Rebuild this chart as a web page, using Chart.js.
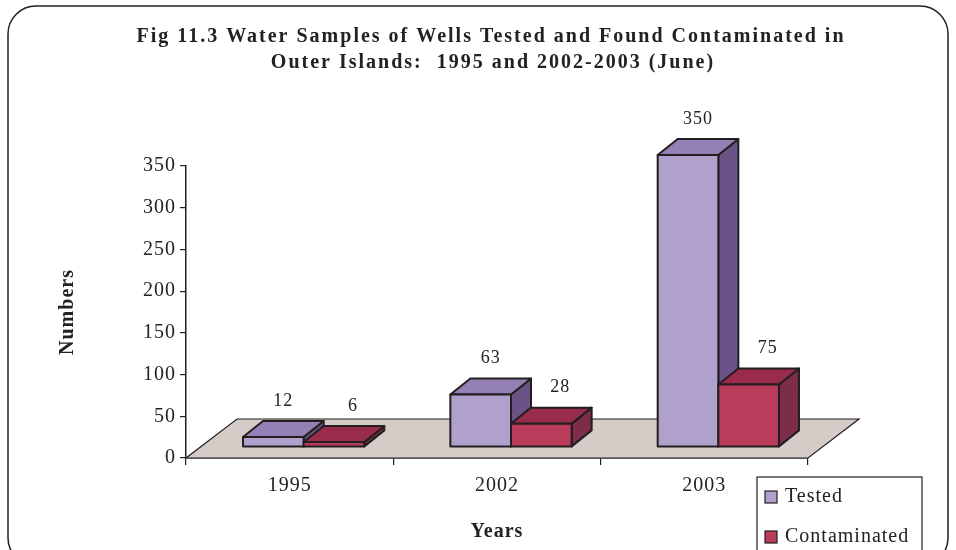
<!DOCTYPE html>
<html>
<head>
<meta charset="utf-8">
<script src="https://cdn.jsdelivr.net/npm/chart.js@4.4.0/dist/chart.umd.min.js"></script>
<style>
  html, body { margin: 0; padding: 0; background: #fff; }
  #wrap { width: 956px; height: 550px; }
</style>
</head>
<body>
<div id="wrap"><canvas id="chart" width="956" height="550"></canvas></div>
<script>
const years = ["1995", "2002", "2003"];
const tested = [12, 63, 350];
const contaminated = [6, 28, 75];
const seriesNames = ["Tested", "Contaminated"];
const yTickStep = 50;
const yMax = 350;
const titleLines = [
  "Fig 11.3 Water Samples of Wells Tested and Found Contaminated in",
  "Outer Islands:  1995 and 2002-2003 (June)"
];

const serif = "'Liberation Serif', 'Times New Roman', serif";
const ink = "#231f20";

// face colours for the fake 3D boxes: front / top / side
const faces = [
  { front: "#b0a0cc", top: "#9580b5", side: "#6b5388" },
  { front: "#b93d5b", top: "#992b4d", side: "#7d2c4a" }
];
// depth offsets (px) of the bar front, bar back and floor back
const FRONT = { dx: 14, dy: -11 };
const BACK = { dx: 34, dy: -27 };
const FLOOR = { dx: 51, dy: -39 };
// where the value label sits, relative to the bar's centre / back top
const labelShift = [24, 33];

function poly(ctx, pts, fill) {
  ctx.beginPath();
  ctx.moveTo(pts[0][0], pts[0][1]);
  for (let k = 1; k < pts.length; k++) ctx.lineTo(pts[k][0], pts[k][1]);
  ctx.closePath();
  ctx.fillStyle = fill;
  ctx.fill();
  ctx.stroke();
}

const threeD = {
  id: "threeD",
  beforeLayout(chart) {
    chart.ctx.letterSpacing = "1px";
  },
  beforeDraw(chart) {
    const ctx = chart.ctx;
    ctx.letterSpacing = "1px";
    // rounded outer frame
    ctx.save();
    ctx.strokeStyle = ink;
    ctx.lineWidth = 1.5;
    ctx.beginPath();
    ctx.roundRect(8, 6, 940, 560, 28);
    ctx.stroke();
    ctx.restore();
  },
  beforeDatasetsDraw(chart) {
    const { ctx, chartArea: a } = chart;
    const y0 = chart.scales.y.getPixelForValue(0);
    ctx.save();
    ctx.strokeStyle = ink;
    ctx.lineWidth = 1.2;
    poly(ctx, [
      [a.left, y0], [a.right, y0],
      [a.right + FLOOR.dx, y0 + FLOOR.dy], [a.left + FLOOR.dx, y0 + FLOOR.dy]
    ], "#d5ccc8");
    ctx.restore();
  },
  afterDatasetsDraw(chart) {
    const ctx = chart.ctx;
    ctx.save();
    ctx.strokeStyle = ink;
    ctx.lineWidth = 2;
    ctx.lineJoin = "round";
    const n = chart.data.labels.length;
    for (let i = 0; i < n; i++) {
      chart.data.datasets.forEach((ds, d) => {
        const el = chart.getDatasetMeta(d).data[i];
        const p = el.getProps(["x", "y", "base", "width"], true);
        const l = p.x - p.width / 2 + FRONT.dx, r = p.x + p.width / 2 + FRONT.dx;
        const t = p.y + FRONT.dy, b = p.base + FRONT.dy;
        const ox = BACK.dx - FRONT.dx, oy = BACK.dy - FRONT.dy;
        const f = faces[d];
        poly(ctx, [[r, t], [r + ox, t + oy], [r + ox, b + oy], [r, b]], f.side);
        poly(ctx, [[l, t], [r, t], [r + ox, t + oy], [l + ox, t + oy]], f.top);
        poly(ctx, [[l, t], [r, t], [r, b], [l, b]], f.front);
      });
    }
    // value labels
    ctx.fillStyle = "#222";
    ctx.font = "18px " + serif;
    ctx.textAlign = "center";
    ctx.textBaseline = "middle";
    chart.data.datasets.forEach((ds, d) => {
      chart.getDatasetMeta(d).data.forEach((el, i) => {
        const p = el.getProps(["x", "y"], true);
        ctx.fillText(String(ds.data[i]), p.x + labelShift[d], p.y + BACK.dy - 20);
      });
    });
    ctx.restore();
  },
  afterDraw(chart) {
    const ctx = chart.ctx;
    ctx.save();
    // title
    ctx.fillStyle = "#222";
    ctx.font = "bold 20px " + serif;
    ctx.letterSpacing = "2px";
    ctx.textAlign = "center";
    ctx.textBaseline = "middle";
    ctx.fillText(titleLines[0], 491, 37);
    ctx.fillText(titleLines[1], 493, 63);
    // legend
    ctx.letterSpacing = "1px";
    ctx.strokeStyle = ink;
    ctx.lineWidth = 1.2;
    ctx.fillStyle = "#fff";
    ctx.fillRect(757, 477, 165, 80);
    ctx.strokeRect(757, 477, 165, 80);
    ctx.font = "20px " + serif;
    ctx.textAlign = "left";
    chart.data.datasets.forEach((ds, d) => {
      const cy = 497 + d * 40;
      ctx.fillStyle = faces[d].front;
      ctx.fillRect(765, cy - 6, 12, 12);
      ctx.strokeRect(765, cy - 6, 12, 12);
      ctx.fillStyle = "#222";
      ctx.fillText(ds.label, 785, cy);
    });
    ctx.restore();
  }
};

new Chart(document.getElementById("chart"), {
  type: "bar",
  data: {
    labels: years,
    datasets: [
      { label: seriesNames[0], data: tested, backgroundColor: "rgba(0,0,0,0)", borderWidth: 0 },
      { label: seriesNames[1], data: contaminated, backgroundColor: "rgba(0,0,0,0)", borderWidth: 0 }
    ]
  },
  options: {
    responsive: false,
    animation: false,
    layout: { padding: { top: 166, left: 50, right: 148, bottom: 0 } },
    datasets: { bar: { categoryPercentage: 0.585, barPercentage: 1.0 } },
    scales: {
      x: {
        afterFit: s => { s.height = 92; },
        grid: { display: true, drawOnChartArea: false, offset: true, tickLength: 7, color: ink, lineWidth: 1.2 },
        border: { color: ink, width: 1.5 },
        ticks: { color: "#222", font: { family: serif, size: 20 }, padding: 9 },
        title: { display: true, text: "Years", color: "#222", font: { family: serif, size: 20, weight: "bold" }, padding: { top: 0, bottom: 6 } }
      },
      y: {
        min: 0,
        max: yMax,
        afterFit: s => { s.width = 136; },
        grid: { display: true, drawOnChartArea: false, tickLength: 6, color: ink, lineWidth: 1.2 },
        border: { color: ink, width: 1.5 },
        ticks: { stepSize: yTickStep, color: "#222", font: { family: serif, size: 20 }, padding: 4 },
        title: { display: true, text: "Numbers", color: "#222", font: { family: serif, size: 20, weight: "bold" }, padding: { top: 6, bottom: 0 } }
      }
    },
    plugins: {
      legend: { display: false },
      tooltip: { enabled: false }
    }
  },
  plugins: [threeD]
});
</script>
</body>
</html>
